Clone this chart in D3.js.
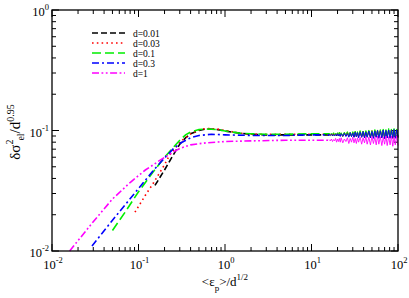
<!DOCTYPE html>
<html>
<head>
<meta charset="utf-8">
<script src="https://d3js.org/d3.v7.min.js"></script>
<style>
    body { margin: 0; background: #fff; }
    text { font-family: "Liberation Serif", "Times New Roman", serif; fill: #000; }
    .frame { fill: none; stroke: #000; stroke-width: 1.3; }
    .tick { stroke: #000; stroke-width: 1; }
</style>
</head>
<body>
<svg id="chart"></svg>
<script>
    var W = 409, H = 298;
    var margin = {left: 52, top: 10, right: 11, bottom: 47};

    var labels = ["d=0.01", "d=0.03", "d=0.1", "d=0.3", "d=1"];
    var colors = ["#000000", "#ff0000", "#00ee00", "#0000ff", "#ff00ff"];
    var dashes = ["6,3", "1.6,3.2", "9,4", "7,3,2,3", "7,2.5,1.8,2.5,1.8,2.5"];

    // smooth part of each curve [x, y]
    var d001 = [[0.155,0.035],[0.2,0.047],[0.25,0.062],[0.3,0.077],[0.35,0.087],[0.4,0.094],
                [0.5,0.1],[0.6,0.103],[0.8,0.102],[1.0,0.099],[1.5,0.095],[2,0.093],
                [3,0.092],[5,0.092],[10,0.092],[16,0.092]];
    var d003 = [[0.091,0.021],[0.12,0.029],[0.15,0.037],[0.2,0.052],[0.23,0.063],[0.3,0.08],
                [0.4,0.094],[0.5,0.101],[0.6,0.104],[0.8,0.103],[1,0.1],[1.5,0.095],
                [2,0.093],[3,0.093],[5,0.093],[10,0.093],[16,0.093]];
    var d01  = [[0.05,0.0148],[0.07,0.021],[0.1,0.031],[0.15,0.046],[0.2,0.06],[0.25,0.072],
                [0.3,0.083],[0.35,0.092],[0.4,0.097],[0.5,0.102],[0.6,0.103],[0.8,0.102],
                [1.0,0.099],[1.5,0.095],[2,0.094],[3,0.093],[5,0.093],[10,0.094],[16,0.094]];
    var d03  = [[0.029,0.011],[0.05,0.018],[0.1,0.033],[0.15,0.047],[0.2,0.059],[0.25,0.07],
                [0.3,0.078],[0.4,0.087],[0.5,0.091],[0.7,0.093],[1,0.092],[2,0.091],
                [5,0.091],[10,0.092],[16,0.092]];
    var d1   = [[0.016,0.01],[0.03,0.0175],[0.05,0.027],[0.08,0.037],[0.12,0.047],[0.18,0.057],
                [0.25,0.066],[0.3,0.071],[0.4,0.076],[0.6,0.079],[1,0.081],[2,0.082],
                [5,0.083],[10,0.083],[16,0.083]];

    // noisy tail, shared x values
    var tailX = [16,16.5,17,17.5,18,18.5,19,19.5,20,20.5,21,21.5,
                 22,23,24,25,26,27,28,29,30,31,32,33,34,35,
                 36.5,38,39.5,41,42.5,44,
                 46,48,50,52,54,56,58,60,
                 62.5,65,67.5,70,72.5,75,
                 78,81,84,87,90,93,96.5,100];
    var t001 = [0.093,0.091,0.093,0.090,0.094,0.091,0.093,0.090,0.094,0.090,0.095,0.090,
                0.094,0.089,0.095,0.090,0.096,0.089,0.095,0.089,0.096,0.088,0.097,0.089,0.096,0.088,
                0.098,0.088,0.097,0.087,0.098,0.088,
                0.099,0.087,0.098,0.087,0.100,0.088,0.099,0.087,
                0.100,0.087,0.101,0.086,0.100,0.087,
                0.101,0.087,0.102,0.086,0.101,0.087,0.102,0.087];
    var t003 = [0.094,0.092,0.094,0.092,0.095,0.091,0.094,0.092,0.095,0.091,0.096,0.091,
                0.095,0.090,0.096,0.091,0.097,0.090,0.096,0.090,0.097,0.090,0.098,0.089,0.097,0.090,
                0.098,0.089,0.099,0.090,0.098,0.089,
                0.099,0.089,0.100,0.088,0.099,0.089,0.101,0.088,
                0.100,0.089,0.101,0.088,0.100,0.089,
                0.101,0.088,0.102,0.089,0.101,0.088,0.102,0.089];
    var t01  = [0.095,0.093,0.095,0.093,0.096,0.092,0.095,0.093,0.096,0.092,0.097,0.092,
                0.096,0.091,0.097,0.092,0.098,0.091,0.097,0.090,0.098,0.091,0.099,0.090,0.098,0.091,
                0.100,0.090,0.099,0.091,0.100,0.089,
                0.101,0.090,0.100,0.089,0.102,0.090,0.101,0.089,
                0.102,0.090,0.103,0.089,0.102,0.090,
                0.104,0.089,0.103,0.090,0.104,0.089,0.103,0.090];
    var t03  = [0.092,0.091,0.093,0.091,0.092,0.090,0.093,0.091,0.094,0.090,0.093,0.089,
                0.094,0.090,0.095,0.089,0.094,0.088,0.096,0.089,0.095,0.088,0.097,0.089,0.096,0.087,
                0.097,0.088,0.098,0.087,0.097,0.088,
                0.099,0.087,0.098,0.086,0.099,0.088,0.100,0.086,
                0.099,0.087,0.101,0.086,0.100,0.087,
                0.101,0.086,0.100,0.087,0.102,0.086,0.101,0.088];
    var t1   = [0.084,0.082,0.085,0.081,0.084,0.082,0.086,0.080,0.085,0.081,0.086,0.080,
                0.087,0.079,0.085,0.081,0.087,0.078,0.086,0.080,0.088,0.079,0.086,0.078,0.087,0.080,
                0.088,0.077,0.087,0.079,0.089,0.077,
                0.088,0.076,0.089,0.078,0.088,0.076,0.090,0.077,
                0.089,0.075,0.088,0.077,0.090,0.075,
                0.089,0.076,0.090,0.074,0.088,0.076,0.090,0.075];

    var curves = [d001, d003, d01, d03, d1];
    var tails = [t001, t003, t01, t03, t1];

    var xDecades = [-2, -1, 0, 1, 2];
    var yDecades = [-2, -1, 0];

    var svg = d3.select("#chart").attr("width", W).attr("height", H);

    var x = d3.scaleLog().domain([1e-2, 1e2]).range([margin.left, W - margin.right]);
    var y = d3.scaleLog().domain([1e-2, 1]).range([H - margin.bottom, margin.top]);

    var x0 = x.range()[0], x1 = x.range()[1], y0 = y.range()[0], y1 = y.range()[1];

    // minor + major ticks, inward on all four sides
    var xTicks = [];
    xDecades.forEach(function(e, i) {
        if (i == xDecades.length - 1) { xTicks.push({v: Math.pow(10, e), major: true}); return; }
        for (var k = 1; k < 10; k++) xTicks.push({v: k * Math.pow(10, e), major: k == 1});
    });
    var yTicks = [];
    yDecades.forEach(function(e, i) {
        if (i == yDecades.length - 1) { yTicks.push({v: Math.pow(10, e), major: true}); return; }
        for (var k = 1; k < 10; k++) yTicks.push({v: k * Math.pow(10, e), major: k == 1});
    });

    var ticks = svg.append("g");
    xTicks.forEach(function(t) {
        var len = t.major ? 7 : 4, px = x(t.v);
        ticks.append("line").attr("class", "tick").attr("x1", px).attr("x2", px).attr("y1", y0).attr("y2", y0 - len);
        ticks.append("line").attr("class", "tick").attr("x1", px).attr("x2", px).attr("y1", y1).attr("y2", y1 + len);
    });
    yTicks.forEach(function(t) {
        var len = t.major ? 7 : 4, py = y(t.v);
        ticks.append("line").attr("class", "tick").attr("y1", py).attr("y2", py).attr("x1", x0).attr("x2", x0 + len);
        ticks.append("line").attr("class", "tick").attr("y1", py).attr("y2", py).attr("x1", x1).attr("x2", x1 - len);
    });

    // tick labels
    xDecades.forEach(function(e) {
        var t = svg.append("text").attr("x", x(Math.pow(10, e)) + 1).attr("y", y0 + 18)
            .attr("text-anchor", "middle").style("font-size", "12.5px");
        t.append("tspan").text("10");
        t.append("tspan").attr("dy", -6).style("font-size", "8.5px").text(e);
    });
    yDecades.forEach(function(e) {
        var t = svg.append("text").attr("x", x0 - 3).attr("y", y(Math.pow(10, e)) + 6)
            .attr("text-anchor", "end").style("font-size", "12.5px");
        t.append("tspan").text("10");
        t.append("tspan").attr("dy", -6).style("font-size", "8.5px").text(e);
    });

    // curves
    var line = d3.line().x(function(d){ return x(d[0]); }).y(function(d){ return y(d[1]); });
    var plot = svg.append("g");
    curves.forEach(function(c, i) {
        var tail = tailX.map(function(v, j){ return [v, tails[i][j]]; });
        plot.append("path").attr("d", line(tail)).attr("fill", "none")
            .attr("stroke", colors[i]).attr("stroke-width", 0.9);
        plot.append("path").attr("d", line(c)).attr("fill", "none")
            .attr("stroke", colors[i]).attr("stroke-width", 1.6)
            .attr("stroke-dasharray", dashes[i]);
    });

    svg.append("rect").attr("class", "frame")
        .attr("x", x0).attr("y", y1).attr("width", x1 - x0).attr("height", y0 - y1);

    // legend
    var legend = svg.append("g");
    labels.forEach(function(l, i) {
        var ly = 33 + i * 10;
        legend.append("line").attr("x1", 92).attr("x2", 125).attr("y1", ly).attr("y2", ly)
            .attr("stroke", colors[i]).attr("stroke-width", 1.6).attr("stroke-dasharray", dashes[i]);
        legend.append("text").attr("x", 133).attr("y", ly + 3.5).style("font-size", "9.5px").text(l);
    });

    // axis titles
    var xt = svg.append("text").attr("x", 225).attr("y", 286).attr("text-anchor", "middle").style("font-size", "13px");
    xt.append("tspan").text("<ε");
    xt.append("tspan").attr("dy", 5).style("font-size", "9px").text("p");
    xt.append("tspan").attr("dy", -5).text(">/d");
    xt.append("tspan").attr("dy", -6).style("font-size", "9px").text("1/2");

    var yt = svg.append("text").attr("transform", "translate(20,132) rotate(-90)")
        .attr("text-anchor", "middle").style("font-size", "15px");
    yt.append("tspan").text("δσ");
    yt.append("tspan").attr("dy", -7).style("font-size", "10px").text("2");
    yt.append("tspan").attr("dy", 11).attr("dx", -1).style("font-size", "10px").text("el");
    yt.append("tspan").attr("dy", -4).text("/d");
    yt.append("tspan").attr("dy", -6).style("font-size", "10px").text("0.95");
</script>
</body>
</html>
